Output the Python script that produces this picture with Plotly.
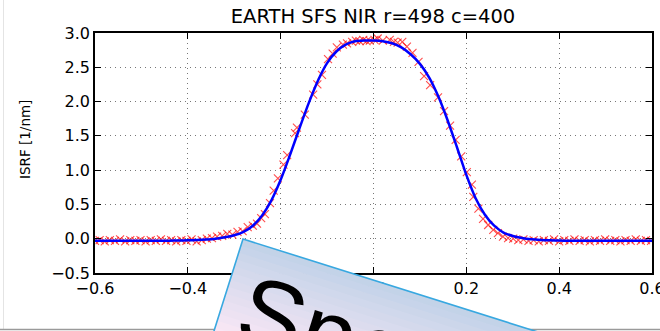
import math
import plotly.graph_objects as go

# ---------------- data ----------------
line_x = [-0.60, -0.58, -0.56, -0.54, -0.52, -0.50, -0.48, -0.46, -0.44, -0.42,
          -0.40, -0.38, -0.36, -0.34, -0.32, -0.30, -0.28, -0.26, -0.24, -0.22,
          -0.20, -0.18, -0.16, -0.14, -0.12, -0.10, -0.08, -0.06, -0.04, -0.02,
          0.00, 0.02, 0.04, 0.06, 0.08, 0.10, 0.12, 0.14, 0.16, 0.18,
          0.20, 0.22, 0.24, 0.26, 0.28, 0.30, 0.32, 0.34, 0.36, 0.38,
          0.40, 0.42, 0.44, 0.46, 0.48, 0.50, 0.52, 0.54, 0.56, 0.58, 0.60]
line_y = [-0.03, -0.03, -0.03, -0.03, -0.03, -0.03, -0.03, -0.03, -0.028, -0.026,
          -0.024, -0.02, -0.012, 0.00, 0.02, 0.05, 0.10, 0.19, 0.34, 0.56,
          0.86, 1.22, 1.60, 1.97, 2.30, 2.56, 2.73, 2.83, 2.88, 2.89,
          2.89, 2.88, 2.85, 2.79, 2.69, 2.55, 2.35, 2.07, 1.72, 1.33,
          0.93, 0.59, 0.35, 0.19, 0.09, 0.04, 0.01, -0.008, -0.018, -0.024,
          -0.027, -0.03, -0.03, -0.03, -0.03, -0.03, -0.03, -0.03, -0.03, -0.03, -0.03]

marker_x = [-0.600, -0.590, -0.579, -0.568, -0.557, -0.546, -0.535, -0.524, -0.513, -0.502,
            -0.491, -0.480, -0.469, -0.458, -0.447, -0.436, -0.425, -0.414, -0.403, -0.392,
            -0.381, -0.370, -0.359, -0.348, -0.337, -0.326, -0.315, -0.304, -0.293, -0.282,
            -0.271, -0.260, -0.251, -0.242, -0.234, -0.223, -0.215, -0.206, -0.194, -0.186,
            -0.169, -0.165, -0.148, -0.130, -0.121, -0.111, -0.098, -0.088, -0.079, -0.066,
            -0.057, -0.046, -0.038, -0.030, -0.022, -0.015, -0.008, 0.002, 0.009, 0.020,
            0.035, 0.044, 0.052, 0.062, 0.072, 0.084, 0.097, 0.109, 0.122, 0.139,
            0.152, 0.165, 0.177, 0.189, 0.201, 0.212, 0.215, 0.226, 0.236, 0.247,
            0.258, 0.268, 0.279, 0.290, 0.301, 0.312, 0.323, 0.334, 0.345, 0.356,
            0.367, 0.378, 0.389, 0.400, 0.411, 0.422, 0.433, 0.444, 0.455, 0.466,
            0.477, 0.488, 0.499, 0.510, 0.521, 0.532, 0.543, 0.554, 0.565, 0.576,
            0.587, 0.598]
marker_y = [-0.03, -0.02, -0.04, -0.02, -0.03, -0.01, -0.04, -0.02, -0.03, -0.02,
            -0.04, -0.02, -0.03, -0.01, -0.03, -0.02, -0.04, -0.02, -0.03, -0.01,
            -0.04, -0.02, 0.00, 0.01, 0.03, 0.04, 0.07, 0.06, 0.10, 0.11,
            0.17, 0.19, 0.22, 0.30, 0.36, 0.52, 0.70, 0.88, 1.08, 1.22,
            1.54, 1.62, 1.81, 2.10, 2.25, 2.39, 2.62, 2.70, 2.79, 2.83,
            2.85, 2.87, 2.89, 2.88, 2.90, 2.88, 2.89, 2.90, 2.92, 2.89,
            2.90, 2.87, 2.86, 2.87, 2.80, 2.71, 2.58, 2.37, 2.24, 2.06,
            1.86, 1.65, 1.44, 1.20, 0.97, 0.79, 0.61, 0.44, 0.29, 0.20,
            0.13, 0.08, 0.03, 0.01, 0.00, -0.02, -0.01, -0.03, -0.02, -0.04,
            -0.02, -0.03, -0.01, -0.04, -0.02, -0.03, -0.01, -0.03, -0.02, -0.04,
            -0.02, -0.03, -0.01, -0.03, -0.02, -0.04, -0.02, -0.03, -0.01, -0.03,
            -0.02, -0.03]

x_ticks = [-0.6, -0.4, -0.2, 0.0, 0.2, 0.4, 0.6]
y_ticks = [-0.5, 0.0, 0.5, 1.0, 1.5, 2.0, 2.5, 3.0]
title_text = "EARTH SFS NIR r=498 c=400"
y_label = "ISRF [1/nm]"
overlay_text = "Spe"

# ---------------- layout geometry ----------------
W, H = 660, 331
ML, MR, MT, MB = 95, 8, 33, 58
PW, PH = W - ML - MR, H - MT - MB


def px(xp):
    return (xp - ML) / PW


def py(yp):
    return (H - MB - yp) / PH


def fmt(v):
    return ("\u2212" if v < 0 else "") + f"{abs(v):.1f}"


fig = go.Figure()
fig.add_trace(go.Scatter(
    x=marker_x, y=marker_y, mode="markers",
    marker=dict(symbol="x-thin-open", size=8, color="rgba(255,0,0,0.7)",
                line=dict(width=1.1, color="rgba(255,0,0,0.7)")),
    hoverinfo="skip", showlegend=False))
fig.add_trace(go.Scatter(
    x=line_x, y=line_y, mode="lines",
    line=dict(color="#0000ff", width=2.5, shape="spline", smoothing=0.6),
    hoverinfo="skip", showlegend=False))

font = "DejaVu Sans"
axis_common = dict(
    showline=True, linecolor="black", linewidth=1.6, mirror="ticks",
    ticks="inside", ticklen=6, tickwidth=1, tickcolor="black",
    showgrid=True, gridcolor="#777", gridwidth=1, griddash="1px,4px",
    zeroline=False, tickfont=dict(family=font, size=16, color="black"),
    ticklabeloverflow="allow", automargin=False,
)

fig.update_layout(
    width=W, height=H,
    margin=dict(l=ML, r=MR, t=MT, b=MB, autoexpand=False),
    paper_bgcolor="white", plot_bgcolor="white",
    title=dict(text=title_text, x=(373 / W), xanchor="center",
               y=1 - 16 / H, yanchor="middle", yref="container",
               font=dict(family=font, size=19.5, color="black")),
    xaxis=dict(range=[-0.6, 0.6], tickvals=x_ticks,
               ticktext=[fmt(v) for v in x_ticks], **axis_common),
    yaxis=dict(range=[-0.5, 3.0], tickvals=y_ticks,
               ticktext=[fmt(v) for v in y_ticks], **axis_common),
)

# y-axis label
fig.add_annotation(text=y_label, xref="paper", yref="paper",
                   x=px(25), y=py(140), xanchor="center", yanchor="middle",
                   textangle=-90, showarrow=False,
                   font=dict(family=font, size=13.5, color="black"))

shapes = []
# faint left edge and bottom slide edge
shapes.append(dict(type="line", xref="paper", yref="paper",
                   x0=px(3.5), x1=px(3.5), y0=py(0), y1=py(329),
                   line=dict(color="#e4e4e4", width=1), layer="above"))
shapes.append(dict(type="line", xref="paper", yref="paper",
                   x0=px(0), x1=px(W), y0=py(329.5), y1=py(329.5),
                   line=dict(color="#9a9a9a", width=1.5), layer="above"))

# rotated overlay card with gradient
ang = math.radians(17.5)
u = (math.cos(ang), math.sin(ang))
v = (-math.sin(ang), math.cos(ang))
A = (243.0, 239.0)
BW, BH = 700.0, 300.0


def pt(a, b):
    return (A[0] + a * u[0] + b * v[0], A[1] + a * u[1] + b * v[1])


def poly(points):
    s = ""
    for i, (xx, yy) in enumerate(points):
        s += ("M" if i == 0 else "L") + f"{px(xx):.5f},{py(yy):.5f} "
    return s + "Z"


c0 = (193, 210, 232)
c1 = (252, 232, 246)
steps = 14
depth = 100.0
for i in range(steps):
    d0 = depth * i / steps
    d1 = depth * (i + 1) / steps + 0.8
    t = (i + 0.5) / steps
    col = tuple(int(round(c0[k] + (c1[k] - c0[k]) * t)) for k in range(3))
    shapes.append(dict(type="path", xref="paper", yref="paper",
                       path=poly([pt(0, d0), pt(BW, d0), pt(BW, d1), pt(0, d1)]),
                       fillcolor=f"rgb{col}", line=dict(width=0), layer="above"))
shapes.append(dict(type="path", xref="paper", yref="paper",
                   path=poly([pt(0, depth), pt(BW, depth), pt(BW, BH), pt(0, BH)]),
                   fillcolor=f"rgb{c1}", line=dict(width=0), layer="above"))
shapes.append(dict(type="path", xref="paper", yref="paper",
                   path=poly([pt(0, 0), pt(BW, 0), pt(BW, BH), pt(0, BH)]),
                   fillcolor="rgba(0,0,0,0)", line=dict(color="#38a8e0", width=1.6),
                   layer="above"))
fig.update_layout(shapes=shapes)

fig.add_annotation(text=overlay_text, xref="paper", yref="paper",
                   x=px(324), y=py(331), xanchor="center", yanchor="middle",
                   textangle=17.5, showarrow=False,
                   font=dict(family="Liberation Sans", size=97, color="black"))

fig.write_html("out.html")
